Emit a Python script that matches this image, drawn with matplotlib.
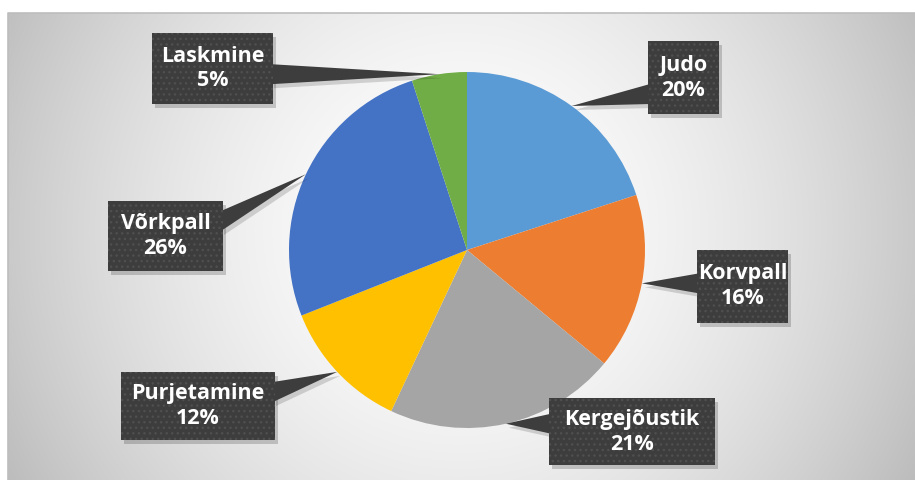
import numpy as np
import matplotlib
matplotlib.use("Agg")
import matplotlib.pyplot as plt
from matplotlib.patches import Rectangle, Polygon

# ---- data ----
categories = ["Judo", "Korvpall", "Kergejõustik", "Purjetamine", "Võrkpall", "Laskmine"]
values = [20, 16, 21, 12, 26, 5]
colors = ["#5B9BD5", "#ED7D31", "#A5A5A5", "#FFC000", "#4472C4", "#70AD47"]

# label boxes in image pixel coords (x0, y0, x1, y1)
boxes = [(648, 41, 719, 114), (697, 250, 788, 323), (549, 398, 715, 465),
         (121, 372, 275, 440), (108, 201, 223, 271), (152, 33, 273, 104)]

W, H = 915, 480
fig = plt.figure(figsize=(W / 100, H / 100), dpi=100)
ax = fig.add_axes([0, 0, 1, 1])
ax.set_xlim(0, W)
ax.set_ylim(0, H)
ax.axis("off")

# background radial gradient (chart area)
x0c, y0c, x1c, y1c = 8, 13, W, H
xs = np.linspace(x0c, x1c, 400)
ys = np.linspace(y0c, y1c, 220)
X, Y = np.meshgrid(xs, ys)
cx, cy = 461, 230
d = np.sqrt((X - cx) ** 2 + (Y - cy) ** 2) / np.hypot(455, 245)
v = 1 - 0.26 * d ** 1.7
img = np.dstack([v, v, v])
ax.imshow(img, extent=(x0c, x1c, H - y1c, H - y0c), origin="upper",
          aspect="auto", zorder=0, interpolation="bilinear")
ax.plot([x0c, x0c, x1c], [0, H - y0c, H - y0c], color="#bdbdbd", lw=1.2, zorder=1)

# pie
cxp, cyp, r = 467, H - 250, 178
wedges, _ = ax.pie(values, colors=colors, startangle=90, counterclock=False,
                   center=(cxp, cyp), radius=r, frame=True,
                   wedgeprops=dict(linewidth=0))
for w in wedges:
    w.set_zorder(2)
ax.set_xlim(0, W)
ax.set_ylim(0, H)
ax.axis("off")

total = float(sum(values))
cum = 0.0
for cat, val, box in zip(categories, values, boxes):
    mid = (cum + val / 2) / total * 2 * np.pi
    cum += val
    tx = cxp + r * np.sin(mid)
    ty = cyp + r * np.cos(mid)
    bx0, by0, bx1, by1 = box
    X0, X1 = bx0, bx1
    Y0, Y1 = H - by1, H - by0
    bcx = (X0 + X1) / 2
    hw = 10
    if tx > X1:
        side_x = X1 - 2
        c = np.clip(ty, Y0 + 20, Y1 - 20)
        tri = [(side_x, c - hw), (side_x, c + hw), (tx, ty)]
    elif tx < X0:
        side_x = X0 + 2
        c = np.clip(ty, Y0 + 20, Y1 - 20)
        tri = [(side_x, c - hw), (side_x, c + hw), (tx, ty)]
    else:
        side_y = Y1 - 2 if ty > Y1 else Y0 + 2
        c = np.clip(tx, X0 + 20, X1 - 20)
        tri = [(c - hw, side_y), (c + hw, side_y), (tx, ty)]
    ax.add_patch(Rectangle((X0 + 3, Y0 - 4), X1 - X0, Y1 - Y0, facecolor="black",
                           alpha=0.18, linewidth=0, zorder=3))
    ax.add_patch(Polygon([(p[0] + 3, p[1] - 4) for p in tri], closed=True,
                         facecolor="black", alpha=0.15, linewidth=0, zorder=3))
    ax.add_patch(Polygon(tri, closed=True, facecolor="#3d3d3d", linewidth=0, zorder=4))
    ax.add_patch(Rectangle((X0, Y0), X1 - X0, Y1 - Y0, facecolor="#3d3d3d",
                           linewidth=0, zorder=4))
    ax.add_patch(Rectangle((X0, Y0), X1 - X0, Y1 - Y0, fill=False, hatch="...",
                           edgecolor="#4f4f4f", linewidth=0, zorder=5))
    ax.text(bcx, (Y0 + Y1) / 2, f"{cat}\n{val}%", ha="center", va="center",
            color="white", fontsize=15.5, fontweight="bold", family="Open Sans",
            linespacing=1.25, zorder=6)

fig.savefig("out.png", dpi=100)
